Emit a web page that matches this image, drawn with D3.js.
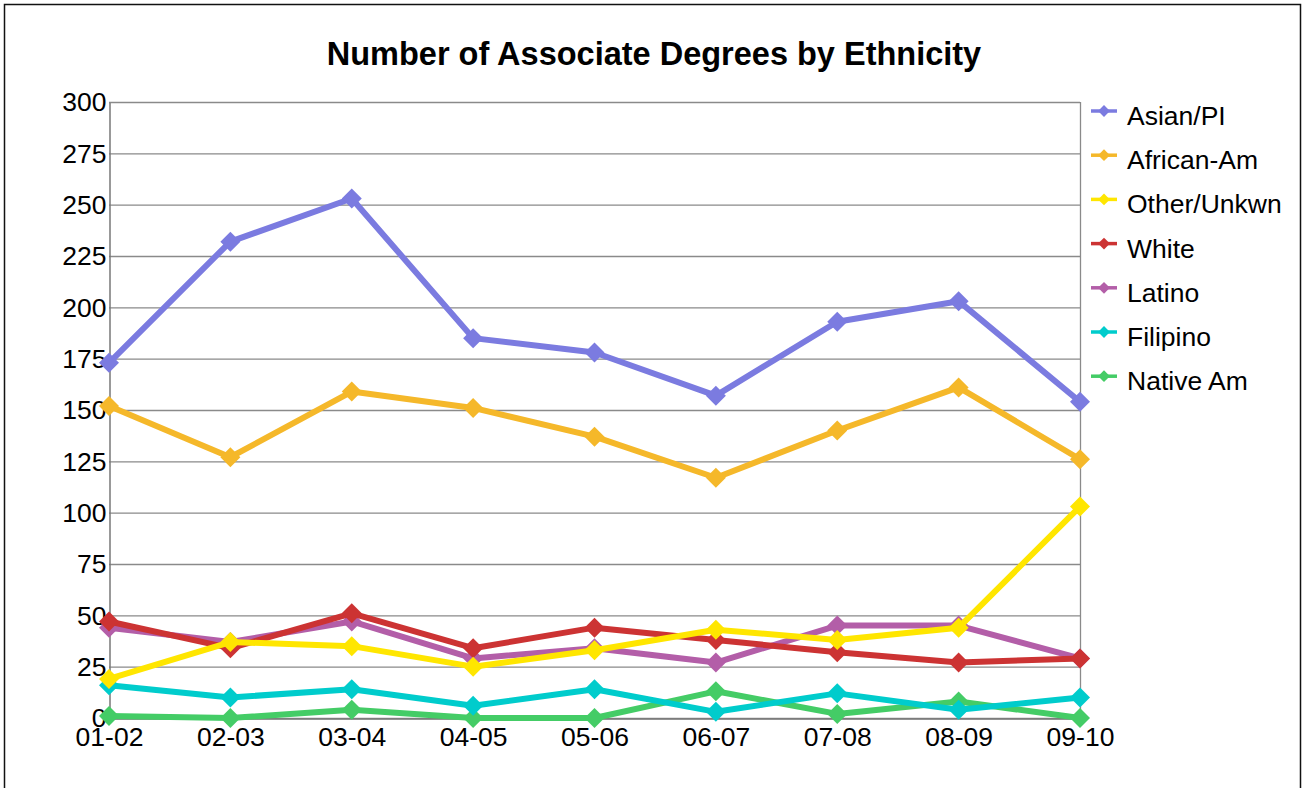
<!DOCTYPE html>
<html>
<head>
<meta charset="utf-8">
<script src="https://cdn.jsdelivr.net/npm/d3@7"></script>
<style>
  html, body { margin: 0; padding: 0; background: #fff; }
  svg { display: block; font-family: "Liberation Sans", Arial, sans-serif; }
</style>
</head>
<body>
<svg id="chart" width="1302" height="788"></svg>
<script>
const title = "Number of Associate Degrees by Ethnicity";
const years = ["01-02", "02-03", "03-04", "04-05", "05-06", "06-07", "07-08", "08-09", "09-10"];
const yTicks = [0, 25, 50, 75, 100, 125, 150, 175, 200, 225, 250, 275, 300];

const seriesNames = ["Asian/PI", "African-Am", "Other/Unkwn", "White", "Latino", "Filipino", "Native Am"];
const seriesColors = ["#7b7be0", "#f5b82a", "#ffe600", "#cc3333", "#b35ea8", "#00cccc", "#44cc66"];

const asianPI    = [173, 232, 253, 185, 178, 157, 193, 203, 154];
const africanAm  = [152, 127, 159, 151, 137, 117, 140, 161, 126];
const otherUnkwn = [19, 37, 35, 25, 33, 43, 38, 44, 103];
const white      = [47, 34, 51, 34, 44, 38, 32, 27, 29];
const latino     = [44, 37, 47, 29, 34, 27, 45, 45, 29];
const filipino   = [16, 10, 14, 6, 14, 3, 12, 4, 10];
const nativeAm   = [1, 0, 4, 0, 0, 13, 2, 8, 0];

const seriesValues = [asianPI, africanAm, otherUnkwn, white, latino, filipino, nativeAm];

const svg = d3.select("#chart");
const W = 1302, H = 788;
const plot = { left: 109, right: 1080, top: 102, bottom: 718 };

// outer frame (no visible bottom edge)
svg.append("path")
  .attr("d", `M4.5,${H + 2} V4.5 H1300.5 V${H + 2}`)
  .attr("fill", "none").attr("stroke", "#111").attr("stroke-width", 1.5);

const x = d3.scalePoint().domain(years).range([plot.left, plot.right]).padding(0);
const y = d3.scaleLinear().domain([0, 300]).range([plot.bottom, plot.top]);

// gridlines
svg.append("g").selectAll("line").data(yTicks).join("line")
  .attr("x1", plot.left).attr("x2", plot.right)
  .attr("y1", d => y(d) + 0.5).attr("y2", d => y(d) + 0.5)
  .attr("stroke", "#8a8a8a").attr("stroke-width", 1.3);

svg.append("line").attr("x1", plot.right + 0.5).attr("x2", plot.right + 0.5)
  .attr("y1", plot.top).attr("y2", plot.bottom).attr("stroke", "#8a8a8a").attr("stroke-width", 1.3);

const yAxis = d3.axisLeft(y).tickValues(yTicks).tickSize(0).tickPadding(3);
const gy = svg.append("g").attr("transform", `translate(${plot.left + 0.5},0.5)`).call(yAxis);
gy.select(".domain").attr("stroke", "#777").attr("stroke-width", 1.5);
gy.selectAll("text").attr("font-size", 26.5).attr("fill", "#000")
  .attr("font-family", "'Liberation Sans', Arial, sans-serif");

const xAxis = d3.axisBottom(x).tickSize(0).tickPadding(9);
const gx = svg.append("g").attr("transform", `translate(0,${plot.bottom + 0.5})`).call(xAxis);
gx.select(".domain").attr("stroke", "#777").attr("stroke-width", 1.3);
gx.selectAll("text").attr("font-size", 26.5).attr("fill", "#000")
  .attr("font-family", "'Liberation Sans', Arial, sans-serif");

// title
svg.append("text").attr("x", 654).attr("y", 65).attr("text-anchor", "middle")
  .attr("font-size", 32.5).attr("font-weight", "bold").attr("fill", "#000").text(title);

const sq = d3.symbol().type(d3.symbolSquare);
const line = d3.line().x((d, i) => x(years[i])).y(d => y(d));

// draw series in reverse order so first series is on top
const order = d3.range(seriesNames.length).reverse();
order.forEach(si => {
  const g = svg.append("g");
  g.append("path").datum(seriesValues[si])
    .attr("d", line).attr("fill", "none")
    .attr("stroke", seriesColors[si]).attr("stroke-width", 6)
    .attr("stroke-linejoin", "round");
  g.selectAll("path.m").data(seriesValues[si]).join("path")
    .attr("class", "m")
    .attr("d", sq.size(200))
    .attr("transform", (d, i) => `translate(${x(years[i])},${y(d)}) rotate(45)`)
    .attr("fill", seriesColors[si]);
});

// legend
const leg = svg.append("g");
seriesNames.forEach((name, i) => {
  const cy = 111 + i * 44.2;
  leg.append("line").attr("x1", 1091).attr("x2", 1117).attr("y1", cy).attr("y2", cy)
    .attr("stroke", seriesColors[i]).attr("stroke-width", 3.5);
  leg.append("path").attr("d", sq.size(70))
    .attr("transform", `translate(1104,${cy}) rotate(45)`).attr("fill", seriesColors[i]);
  leg.append("text").attr("x", 1127).attr("y", cy + 14).attr("font-size", 26.5)
    .attr("fill", "#000").text(name);
});
</script>
</body>
</html>
